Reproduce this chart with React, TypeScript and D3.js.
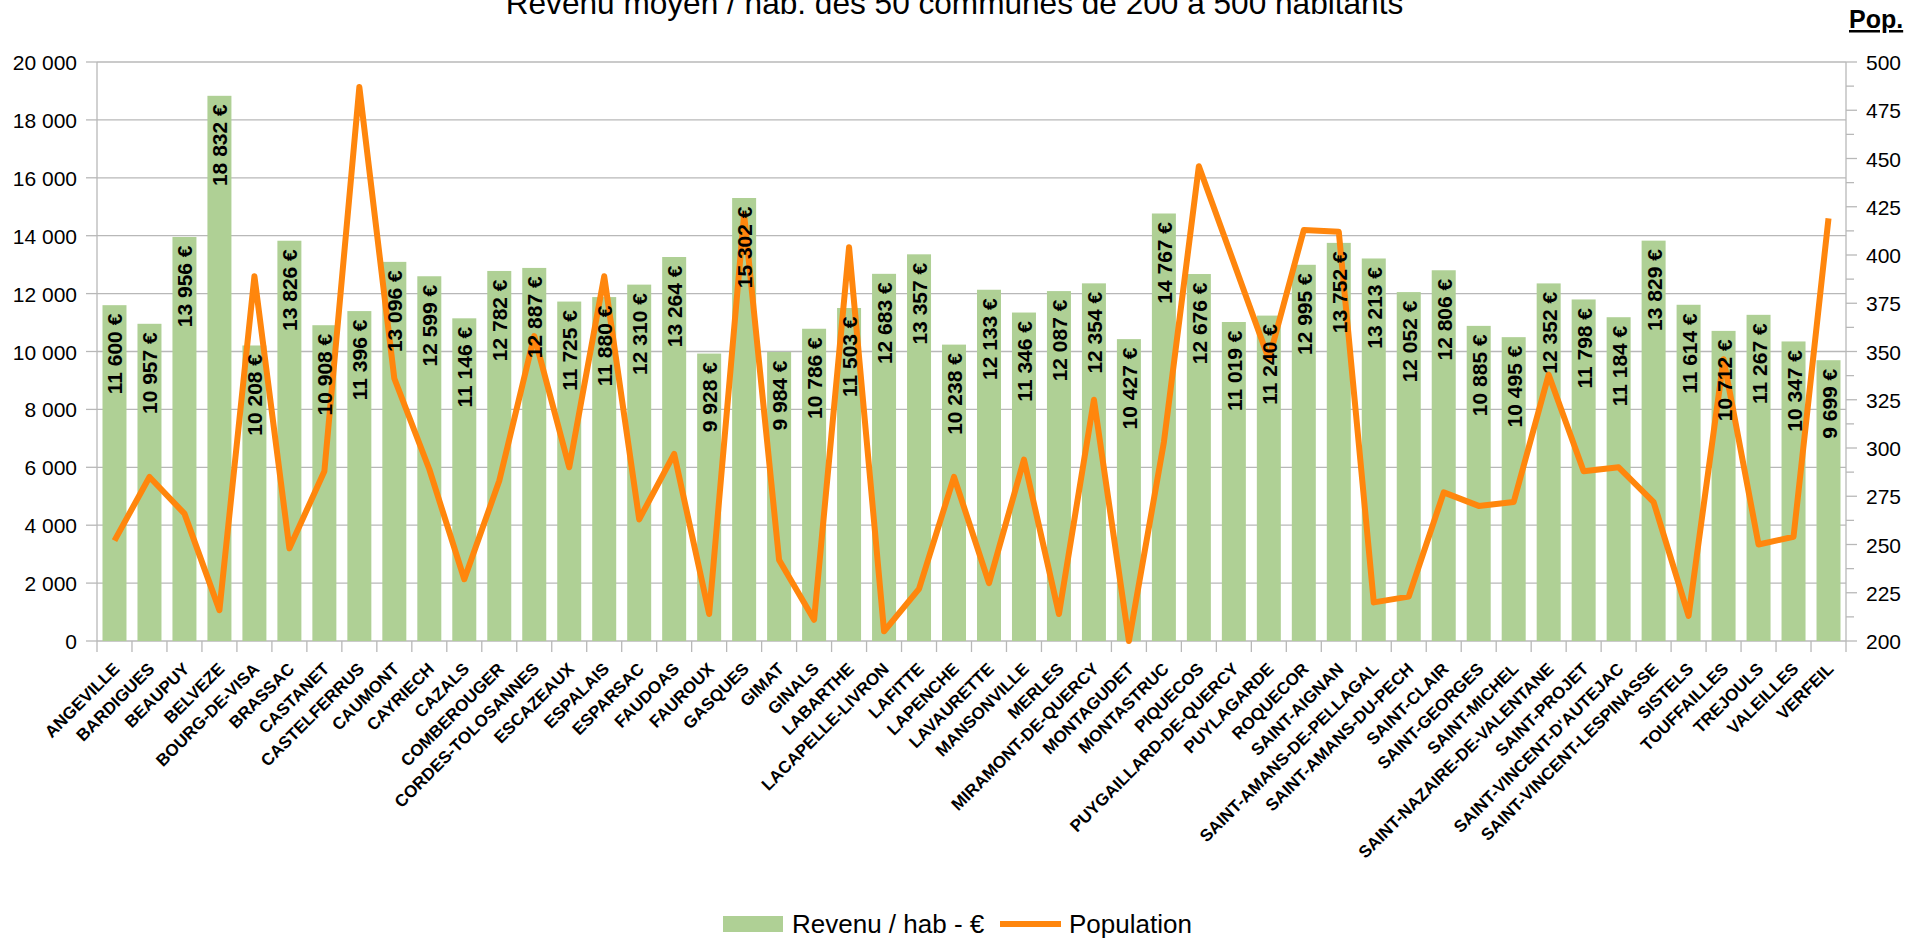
import React from "react";
import * as d3 from "d3";

const communes = [
  "ANGEVILLE", "BARDIGUES", "BEAUPUY", "BELVEZE", "BOURG-DE-VISA", "BRASSAC", "CASTANET",
  "CASTELFERRUS", "CAUMONT", "CAYRIECH", "CAZALS", "COMBEROUGER", "CORDES-TOLOSANNES",
  "ESCAZEAUX", "ESPALAIS", "ESPARSAC", "FAUDOAS", "FAUROUX", "GASQUES", "GIMAT", "GINALS",
  "LABARTHE", "LACAPELLE-LIVRON", "LAFITTE", "LAPENCHE", "LAVAURETTE", "MANSONVILLE", "MERLES",
  "MIRAMONT-DE-QUERCY", "MONTAGUDET", "MONTASTRUC", "PIQUECOS", "PUYGAILLARD-DE-QUERCY",
  "PUYLAGARDE", "ROQUECOR", "SAINT-AIGNAN", "SAINT-AMANS-DE-PELLAGAL", "SAINT-AMANS-DU-PECH",
  "SAINT-CLAIR", "SAINT-GEORGES", "SAINT-MICHEL", "SAINT-NAZAIRE-DE-VALENTANE", "SAINT-PROJET",
  "SAINT-VINCENT-D'AUTEJAC", "SAINT-VINCENT-LESPINASSE", "SISTELS", "TOUFFAILLES", "TREJOULS",
  "VALEILLES", "VERFEIL",
];

const revenus = [
  11600, 10957, 13956, 18832, 10208, 13826, 10908, 11396, 13096, 12599, 11146, 12782, 12887,
  11725, 11880, 12310, 13264, 9928, 15302, 9984, 10786, 11503, 12683, 13357, 10238, 12133,
  11346, 12087, 12354, 10427, 14767, 12676, 11019, 11240, 12995, 13752, 13213, 12052, 12806,
  10885, 10495, 12352, 11798, 11184, 13829, 11614, 10712, 11267, 10347, 9699,
];

const population = [
  252, 285, 266, 216, 389, 248, 288, 487, 336, 289, 232, 283, 358,
  290, 389, 263, 297, 214, 421, 242, 211, 404, 205, 227, 285, 230,
  294, 214, 325, 200, 303, 446, 396, 346, 413, 412, 220, 223, 277,
  270, 272, 338, 288, 290, 272, 213, 346, 250, 254, 419,
];

const revenuTicks = [0, 2000, 4000, 6000, 8000, 10000, 12000, 14000, 16000, 18000, 20000];
const popTicks = [200, 225, 250, 275, 300, 325, 350, 375, 400, 425, 450, 475, 500];

const title = "Revenu moyen / hab. des 50 communes de 200 à 500 habitants";
const legendBars = "Revenu / hab - €";
const legendLine = "Population";
const rightAxisTitle = "Pop.";

const W = 1908;
const H = 938;
const PL = 97;
const PR = 1846;
const PT = 62;
const PB = 641;

const FONT = "'Liberation Sans', Arial, sans-serif";
const GREEN = "#afd095";
const ORANGE = "#ff860d";
const GRID = "#b8b8b8";

const locale = d3.formatLocale({
  decimal: ",",
  thousands: " ",
  grouping: [3],
  currency: ["", " €"],
});
const fmtNum = locale.format(",d");
const fmtEur = locale.format("$,d");

export default function App() {
  const x = d3
    .scaleBand<string>()
    .domain(communes)
    .range([PL, PR])
    .paddingInner(0.314)
    .paddingOuter(0.157);
  const yL = d3.scaleLinear().domain([0, 20000]).range([PB, PT]);
  const yR = d3.scaleLinear().domain([200, 500]).range([PB, PT]);
  const bw = x.bandwidth();
  const step = x.step();
  const cx = (c: string) => (x(c) as number) + bw / 2;

  const line = d3
    .line<number>()
    .x((_, i) => cx(communes[i]))
    .y((d) => yR(d));

  const minorPop = popTicks.slice(0, -1).map((t, i) => (t + popTicks[i + 1]) / 2);
  const boundaries = d3.range(communes.length + 1).map((i) => PL + i * step);

  return (
    <svg
      width={W}
      height={H}
      viewBox={`0 0 ${W} ${H}`}
      style={{ position: "absolute", left: 0, top: 0, display: "block", background: "#fff" }}
      fontFamily={FONT}
    >
      <rect x={0} y={0} width={W} height={H} fill="#fff" />
      {/* title */}
      <text x={954.5} y={13.5} fontSize={31.6} textAnchor="middle" fill="#000">
        {title}
      </text>
      <text
        x={1849}
        y={28}
        fontSize={25}
        fontWeight="bold"
        textDecoration="underline"
        fill="#000"
      >
        {rightAxisTitle}
      </text>

      {/* gridlines */}
      {revenuTicks.map((t) => (
        <line key={"g" + t} x1={PL} x2={PR} y1={yL(t)} y2={yL(t)} stroke={GRID} strokeWidth={1.3} />
      ))}
      {/* axes lines */}
      <line x1={PL} x2={PL} y1={PT} y2={PB} stroke={GRID} strokeWidth={1.3} />
      <line x1={PR} x2={PR} y1={PT} y2={PB} stroke={GRID} strokeWidth={1.3} />

      {/* left ticks & labels */}
      {revenuTicks.map((t) => (
        <g key={"l" + t}>
          <line x1={PL - 11} x2={PL} y1={yL(t)} y2={yL(t)} stroke={GRID} strokeWidth={1.3} />
          <text x={77} y={yL(t) + 8} fontSize={21} textAnchor="end" fill="#000">
            {fmtNum(t)}
          </text>
        </g>
      ))}

      {/* right ticks & labels */}
      {minorPop.map((t) => (
        <line key={"m" + t} x1={PR} x2={PR + 8} y1={yR(t)} y2={yR(t)} stroke={GRID} strokeWidth={1.3} />
      ))}
      {popTicks.map((t) => (
        <g key={"r" + t}>
          <line x1={PR} x2={PR + 11} y1={yR(t)} y2={yR(t)} stroke={GRID} strokeWidth={1.3} />
          <text x={1866} y={yR(t) + 8} fontSize={21} textAnchor="start" fill="#000">
            {t}
          </text>
        </g>
      ))}

      {/* x ticks */}
      {boundaries.map((b, i) => (
        <line key={"xt" + i} x1={b} x2={b} y1={PB} y2={PB + 11} stroke={GRID} strokeWidth={1.3} />
      ))}

      {/* bars */}
      {communes.map((c, i) => (
        <rect key={"b" + c} x={x(c)} y={yL(revenus[i])} width={bw} height={PB - yL(revenus[i])} fill={GREEN} />
      ))}

      {/* population line */}
      <path
        d={line(population) || ""}
        fill="none"
        stroke={ORANGE}
        strokeWidth={6}
        strokeLinejoin="round"
        strokeLinecap="butt"
      />

      {/* bar value labels */}
      {communes.map((c, i) => (
        <text
          key={"v" + c}
          transform={`translate(${cx(c) + 8},${yL(revenus[i]) + 8.5}) rotate(-90)`}
          fontSize={21}
          fontWeight="bold"
          textAnchor="end"
          fill="#000"
        >
          {fmtEur(revenus[i])}
        </text>
      ))}

      {/* category labels */}
      {communes.map((c) => (
        <text
          key={"c" + c}
          transform={`translate(${cx(c) + 6},${670}) rotate(-45)`}
          fontSize={17}
          fontWeight="bold"
          textAnchor="end"
          fill="#000"
        >
          {c}
        </text>
      ))}

      {/* legend */}
      <rect x={723} y={916} width={60} height={16} fill={GREEN} />
      <text x={792} y={933} fontSize={26} fill="#000">
        {legendBars}
      </text>
      <line x1={1000} x2={1061} y1={924} y2={924} stroke={ORANGE} strokeWidth={6} />
      <text x={1069} y={933} fontSize={26} fill="#000">
        {legendLine}
      </text>
    </svg>
  );
}
